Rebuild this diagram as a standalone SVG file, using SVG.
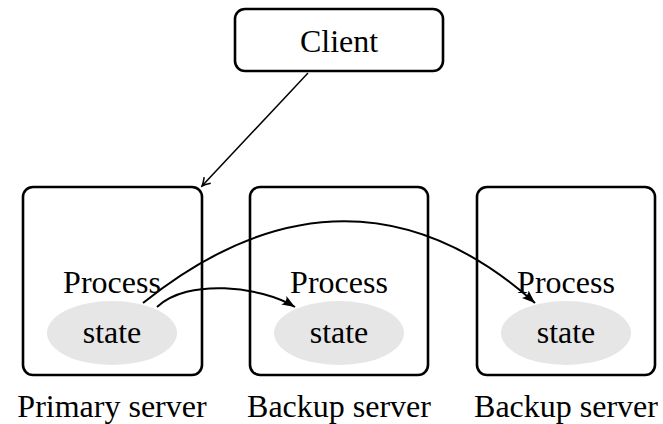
<svg xmlns="http://www.w3.org/2000/svg" width="663" height="424" viewBox="0 0 663 424">
<style>
.box{fill:none;stroke:#000;stroke-width:2.6}
.st{fill:#e6e6e6;stroke:none}
.t{font-size:32px;fill:#000;text-anchor:middle}
.c{fill:none;stroke:#000;stroke-width:2}
.thin{fill:none;stroke:#000;stroke-width:1.5}
</style>
<defs>
<marker id="latex" markerUnits="userSpaceOnUse" markerWidth="14" markerHeight="12" refX="13" refY="5" orient="auto" viewBox="0 0 14 10">
<path d="M0,0 Q4,5 0,10 L13,5 Z" fill="#000"/>
</marker>
<marker id="open" markerUnits="userSpaceOnUse" markerWidth="12" markerHeight="12" refX="10" refY="6" orient="auto" viewBox="0 0 12 12">
<path d="M2,1.5 Q7,5 10,6 Q7,7 2,10.5" fill="none" stroke="#000" stroke-width="1.5"/>
</marker>
</defs>
<g font-family="Liberation Serif, Times New Roman, serif">
<g id="client">
<rect class="box" x="235" y="9" width="208" height="62" rx="10"/>
<text class="t" x="339" y="52">Client</text>
</g>
<g id="primary">
<rect class="box" x="23" y="187" width="179" height="188" rx="10"/>
<text class="t" x="112" y="293">Process</text>
<ellipse class="st" cx="112" cy="333" rx="65" ry="32"/>
<text class="t" x="112" y="343">state</text>
<text class="t" x="112" y="417">Primary server</text>
</g>
<g id="backup1">
<rect class="box" x="250" y="187" width="178" height="188" rx="10"/>
<text class="t" x="339" y="293">Process</text>
<ellipse class="st" cx="339" cy="333" rx="65" ry="32"/>
<text class="t" x="339" y="343">state</text>
<text class="t" x="339" y="417">Backup server</text>
</g>
<g id="backup2">
<rect class="box" x="477" y="187" width="178" height="188" rx="10"/>
<text class="t" x="566" y="293">Process</text>
<ellipse class="st" cx="566" cy="333" rx="65" ry="32"/>
<text class="t" x="566" y="343">state</text>
<text class="t" x="566" y="417">Backup server</text>
</g>
</g>
<g id="connectors">
<path class="thin" d="M308,73 L202,186" marker-end="url(#open)"/>
<path class="c" d="M157,307 C188,278 260,286 295,307" marker-end="url(#latex)"/>
<path class="c" d="M143,303 C279,194 413,194 535,303" marker-end="url(#latex)"/>
</g>
</svg>
